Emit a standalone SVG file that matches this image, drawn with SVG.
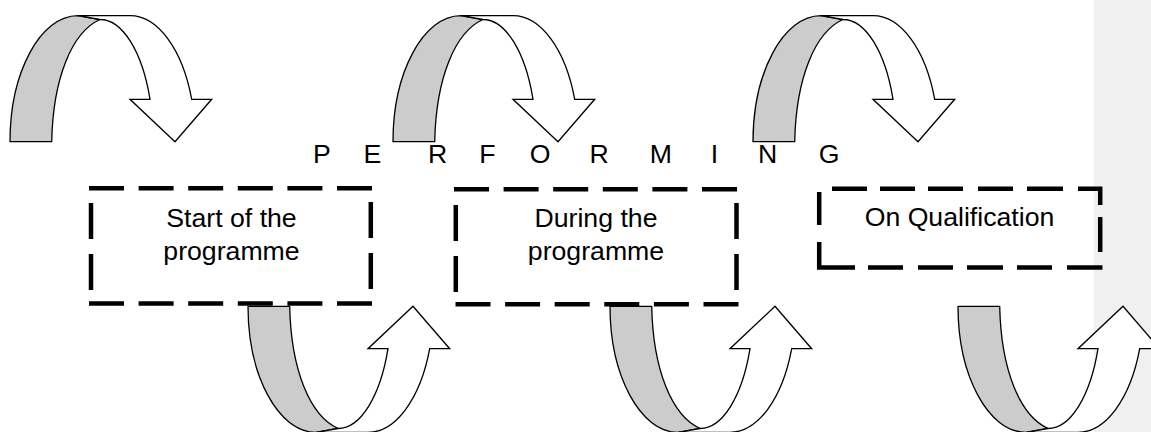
<svg xmlns="http://www.w3.org/2000/svg" xmlns:xlink="http://www.w3.org/1999/xlink" width="1151" height="432" viewBox="0 0 1151 432">
<style>
.bg{fill:#ffffff}
.panel{fill:#f0f0f0}
.back{fill:#cccccc;stroke:#000000;stroke-width:1.3;stroke-linejoin:round}
.front{fill:#ffffff;stroke:#000000;stroke-width:1.3;stroke-linejoin:miter}
.dash{fill:none;stroke:#000000;stroke-width:4.5}
.h{stroke-dasharray:35 14.6}
.v{stroke-dasharray:36 15}
.lbl{font-family:"Liberation Sans",Arial,sans-serif;font-size:26.67px;fill:#000000;text-anchor:middle}
.perf{font-family:"Liberation Sans",Arial,sans-serif;font-size:26.67px;fill:#000000}
</style>
<defs>
<g id="curved">
<path class="back" d="M10,141.7 C10,72.1 40.4,15.7 78,15.7 L100,19.5 C72,32 53,78 51.7,141.7 Z"/>
<path class="front" d="M78,15.7 L130,15.7 A65.5,126 0 0 1 191.7,99.3 L211.7,99.3 L175,141.7 L130,99.3 L150,99.3 A53.3,122.2 0 0 0 100,19.5 Z"/>
</g>
</defs>
<rect class="bg" x="0" y="0" width="1151" height="432"/>
<rect class="panel" x="1094" y="0" width="57" height="432"/>

<g id="connectors">
<use xlink:href="#curved" href="#curved" transform="translate(0,0)"/>
<use xlink:href="#curved" href="#curved" transform="translate(383,0)"/>
<use xlink:href="#curved" href="#curved" transform="translate(743,0)"/>
<use xlink:href="#curved" href="#curved" transform="matrix(1,0,0,-1,238,448)"/>
<use xlink:href="#curved" href="#curved" transform="matrix(1,0,0,-1,600,448)"/>
<use xlink:href="#curved" href="#curved" transform="matrix(1,0,0,-1,948,448)"/>
</g>

<g id="performing">
<text class="perf" y="162.5"><tspan x="313">P</tspan><tspan x="363.6">E</tspan><tspan x="428">R</tspan><tspan x="479.3">F</tspan><tspan x="529.7">O</tspan><tspan x="589.6">R</tspan><tspan x="649.7">M</tspan><tspan x="710.8">I</tspan><tspan x="758">N</tspan><tspan x="818.7">G</tspan></text>
</g>

<g id="node-start">
<line class="dash h" x1="89" y1="188.3" x2="373" y2="188.3"/>
<line class="dash h" x1="89" y1="303.5" x2="373" y2="303.5"/>
<line class="dash v" x1="91" y1="203" x2="91" y2="290"/>
<line class="dash v" x1="370.8" y1="202" x2="370.8" y2="289"/>
<text class="lbl" x="231.5" y="226.5">Start of the</text>
<text class="lbl" x="231.5" y="259.8">programme</text>
</g>

<g id="node-during">
<line class="dash h" x1="454" y1="189.2" x2="738" y2="189.2"/>
<line class="dash h" x1="455.5" y1="304.2" x2="739.5" y2="304.2"/>
<line class="dash v" x1="455.8" y1="205" x2="455.8" y2="292"/>
<line class="dash v" x1="736.5" y1="203" x2="736.5" y2="290"/>
<text class="lbl" x="596" y="226.5">During the</text>
<text class="lbl" x="596" y="259.8">programme</text>
</g>

<g id="node-qualification">
<path class="dash" d="M832,188.8H867M880,188.8H915M928,188.8H963M978,188.8H1013M1027,188.8H1063M1078,188.8H1102.45M1100.2,186.55V205M1100.2,217V252M1102.45,267.5H1067M1052,267.5H1017M1003,267.5H967M953,267.5H918M903,267.5H868M855,267.5H816.95M819.2,269.75V242M819.2,225V192"/>
<text class="lbl" x="959.5" y="225.5">On Qualification</text>
</g>
</svg>
